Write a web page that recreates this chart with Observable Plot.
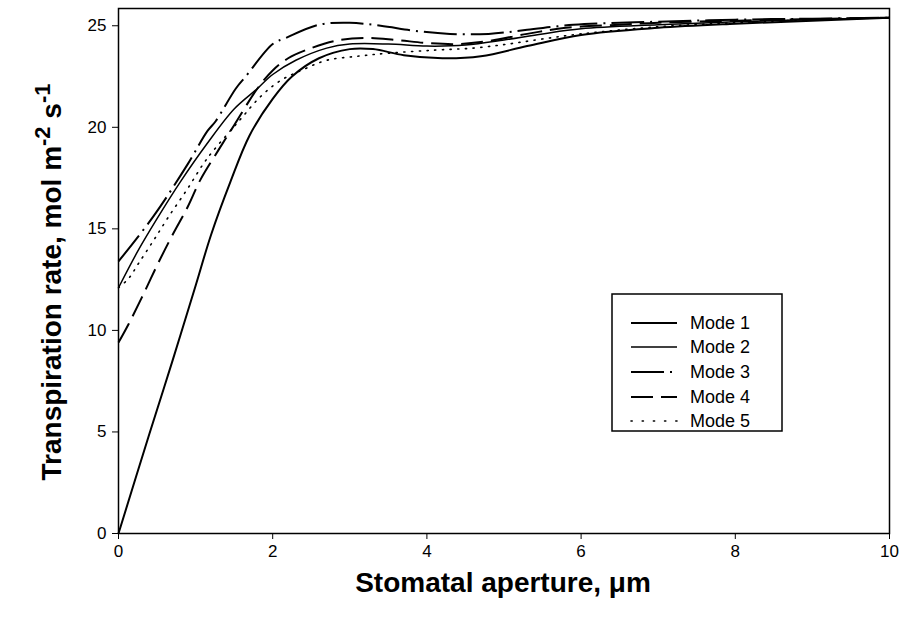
<!DOCTYPE html>
<html>
<head>
<meta charset="utf-8">
<script src="https://cdn.jsdelivr.net/npm/d3@7"></script>
<script src="https://cdn.jsdelivr.net/npm/@observablehq/plot@0.6"></script>
<style>
  html, body { margin: 0; padding: 0; background: #fff; }
  #chart { position: relative; width: 903px; height: 618px; }
</style>
</head>
<body>
<div id="chart"></div>
<script>
// ---- Data ----
const seriesNames = ["Mode 1", "Mode 2", "Mode 3", "Mode 4", "Mode 5"];

const mode1X = [0, 0.4, 0.7, 1.0, 1.2, 1.45, 1.7, 2.0, 2.25, 2.6, 3.0, 3.3, 3.7, 4.2, 4.7, 5.3, 6.0, 7, 8, 9, 10];
const mode1Y = [0, 4.9, 8.5, 12.2, 14.7, 17.3, 19.6, 21.4, 22.5, 23.4, 23.85, 23.85, 23.55, 23.4, 23.5, 24.0, 24.55, 24.9, 25.1, 25.25, 25.4];

const mode2X = [0, 0.25, 0.5, 0.8, 1.15, 1.5, 1.8, 2.0, 2.3, 2.7, 3.0, 3.5, 4.0, 4.5, 5.0, 5.5, 6.0, 7, 8, 9, 10];
const mode2Y = [12.1, 13.9, 15.5, 17.3, 19.2, 20.9, 21.9, 22.6, 23.3, 23.9, 24.1, 24.1, 24.0, 24.05, 24.3, 24.6, 24.85, 25.05, 25.2, 25.3, 25.4];

const mode3X = [0, 0.45, 0.9, 1.15, 1.26, 1.52, 1.65, 2.0, 2.17, 2.6, 3.0, 3.4, 3.85, 4.3, 4.8, 5.3, 5.9, 6.5, 7, 8, 9, 10];
const mode3Y = [13.4, 15.6, 18.2, 19.8, 20.3, 21.9, 22.5, 24.1, 24.4, 25.05, 25.15, 25.0, 24.75, 24.6, 24.6, 24.8, 25.05, 25.15, 25.2, 25.3, 25.35, 25.4];

const mode4X = [0, 0.13, 0.3, 0.5, 0.7, 0.9, 1.06, 1.3, 1.5, 1.8, 2.0, 2.2, 2.5, 2.8, 3.2, 3.6, 4.0, 4.4, 4.8, 5.3, 5.8, 6.5, 7, 8, 9, 10];
const mode4Y = [9.4, 10.3, 11.6, 13.2, 14.7, 16.1, 17.4, 18.9, 20.1, 21.9, 22.8, 23.4, 23.9, 24.25, 24.4, 24.3, 24.15, 24.1, 24.25, 24.6, 24.9, 25.05, 25.15, 25.25, 25.33, 25.4];

const mode5X = [0, 0.13, 0.26, 0.45, 0.65, 0.9, 1.1, 1.23, 1.56, 1.84, 2.1, 2.4, 2.7, 3.1, 3.5, 4.1, 4.6, 5.05, 5.5, 6.0, 7, 8, 9, 10];
const mode5Y = [12.1, 12.55, 13.3, 14.4, 15.6, 17.0, 18.2, 18.85, 20.3, 21.5, 22.3, 22.85, 23.3, 23.5, 23.65, 23.8, 23.9, 24.1, 24.35, 24.6, 24.95, 25.15, 25.3, 25.4];

const xTicks = [0, 2, 4, 6, 8, 10];
const yTicks = [0, 5, 10, 15, 20, 25];

const xTitle = "Stomatal aperture, \u03bcm";

// ---- Build table ----
const xs = [mode1X, mode2X, mode3X, mode4X, mode5X];
const ys = [mode1Y, mode2Y, mode3Y, mode4Y, mode5Y];
const rows = [];
seriesNames.forEach((name, i) => {
  xs[i].forEach((x, j) => rows.push({series: name, x, y: ys[i][j]}));
});

const styles = {
  "Mode 1": {strokeWidth: 2, dash: null},
  "Mode 2": {strokeWidth: 1.5, dash: null},
  "Mode 3": {strokeWidth: 2, dash: "33,6,2,6"},
  "Mode 4": {strokeWidth: 2, dash: "22,8"},
  "Mode 5": {strokeWidth: 1.6, dash: "1.2,6.5", linecap: "round"}
};

const font = "'Liberation Sans', Arial, Helvetica, sans-serif";

const lineMarks = seriesNames.map(name => Plot.line(rows.filter(d => d.series === name), {
  x: "x", y: "y",
  stroke: "black",
  strokeWidth: styles[name].strokeWidth,
  strokeDasharray: styles[name].dash,
  strokeLinecap: styles[name].linecap || "butt",
  curve: "catmull-rom"
}));

const chart = Plot.plot({
  width: 903,
  height: 618,
  marginLeft: 118,
  marginRight: 14,
  marginTop: 8,
  marginBottom: 85,
  style: {fontFamily: font, fontSize: "17px", color: "black", background: "white"},
  x: {domain: [0, 10]},
  y: {domain: [0, 25.85]},
  marks: [
    ...lineMarks,
    Plot.frame({stroke: "black", strokeWidth: 1.5}),
    Plot.axisY({ticks: yTicks, tickSize: 6, tickPadding: 6, label: null, fontSize: 17}),
    Plot.axisX({ticks: xTicks, tickSize: 6, tickPadding: 5, label: null, fontSize: 17})
  ]
});

document.getElementById("chart").appendChild(chart);

// ---- Axis titles and legend ----
const svg = d3.select(chart);

svg.append("text")
  .attr("x", 503).attr("y", 592)
  .attr("text-anchor", "middle")
  .style("font-family", font).style("font-weight", "bold").style("font-size", "28px")
  .attr("fill", "black")
  .text(xTitle);

const yt = svg.append("text")
  .attr("transform", "translate(61,282) rotate(-90)")
  .attr("text-anchor", "middle")
  .style("font-family", font).style("font-weight", "bold").style("font-size", "28px")
  .attr("fill", "black");
yt.append("tspan").text("Transpiration rate, mol m");
yt.append("tspan").attr("dy", -11).style("font-size", "22px").text("-2");
yt.append("tspan").attr("dy", 11).text(" s");
yt.append("tspan").attr("dy", -11).style("font-size", "22px").text("-1");

const lg = svg.append("g");
lg.append("rect")
  .attr("x", 612).attr("y", 294).attr("width", 170).attr("height", 137)
  .attr("fill", "white").attr("stroke", "black").attr("stroke-width", 1.5);
const legendRowY = [323, 347, 372, 397, 421];
seriesNames.forEach((name, i) => {
  const s = styles[name];
  lg.append("line")
    .attr("x1", 631).attr("x2", 677)
    .attr("y1", legendRowY[i]).attr("y2", legendRowY[i])
    .attr("stroke", "black")
    .attr("stroke-width", s.strokeWidth)
    .attr("stroke-dasharray", name === "Mode 5" ? "1.2,10" : s.dash)
    .attr("stroke-linecap", s.linecap || "butt");
  lg.append("text")
    .attr("x", 690).attr("y", legendRowY[i])
    .attr("dy", "0.35em")
    .attr("text-anchor", "start")
    .style("font-family", font).style("font-size", "18px")
    .attr("fill", "black")
    .text(name);
});
</script>
</body>
</html>
